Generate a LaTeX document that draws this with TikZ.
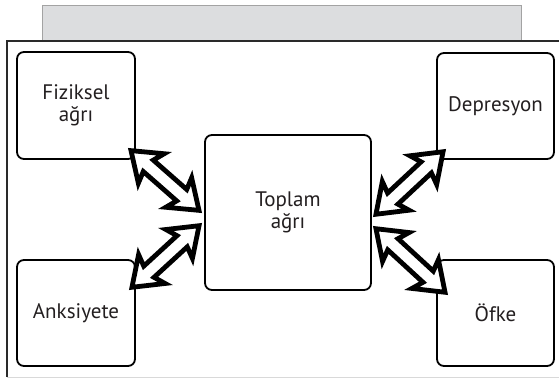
\documentclass[tikz,border=0pt]{standalone}
\usepackage{fontspec}
\setmainfont{PT Sans}
\usetikzlibrary{shapes.arrows,calc}
\definecolor{panelgray}{HTML}{DCDDDF}
\definecolor{panelline}{HTML}{A3A3A3}
\definecolor{framecol}{HTML}{2A2A2A}
\definecolor{inkcol}{HTML}{231F20}
\tikzset{
  box/.style={draw=black, line width=1.8pt, rounded corners=7pt, fill=white,
    align=center, inner sep=0pt, font=\fontsize{21}{22.5}\selectfont, text=inkcol},
  dblarr/.style={double arrow, draw=black, fill=white, line width=4.8pt,
    inner sep=5.2pt, double arrow head extend=12pt, double arrow tip angle=72,
    double arrow head indent=4pt, line join=miter},
}
\newcommand\biarrow[2]{%
  \path let \p1=($(#2)-(#1)$), \n1={atan2(\y1,\x1)}, \n2={veclen(\x1,\y1)} in
    node[dblarr, rotate=\n1, minimum height=\n2-8pt] at ($(#1)!0.5!(#2)$) {};}
\begin{document}
\begin{tikzpicture}[x=1pt,y=-1pt]
\useasboundingbox (0,0) rectangle (559,379);
% header panel
\path[fill=panelgray, draw=panelline, line width=0.8pt] (42,5) rectangle (521,41);
% outer frame
\draw[framecol, line width=1.4pt] (559,41) -- (7,41) -- (7,377);
\draw[black!15, line width=1pt] (7,377) -- (559,377);
% boxes
\node[box, minimum width=118pt, minimum height=107pt] (fiz) at (76,105.5) {Fiziksel\\ağrı};
\node[box, minimum width=118pt, minimum height=106pt] (ank) at (76,313) {Anksiyete};
\node[box, minimum width=117pt, minimum height=106pt] (dep) at (495.5,106) {Depresyon};
\node[box, minimum width=117pt, minimum height=106pt] (ofk) at (495.5,313) {Öfke};
\node[box, minimum width=166pt, minimum height=155pt] (top) at (288,212.5) {Toplam\\ağrı};
% arrow ends
\coordinate (a1) at (128,148);  \coordinate (b1) at (202,213);
\coordinate (a2) at (129,290);  \coordinate (b2) at (202,223);
\coordinate (a3) at (446,149);  \coordinate (b3) at (373,217);
\coordinate (a4) at (448,295);  \coordinate (b4) at (373,226);
\biarrow{a1}{b1}
\biarrow{a2}{b2}
\biarrow{a3}{b3}
\biarrow{a4}{b4}
\end{tikzpicture}
\end{document}
